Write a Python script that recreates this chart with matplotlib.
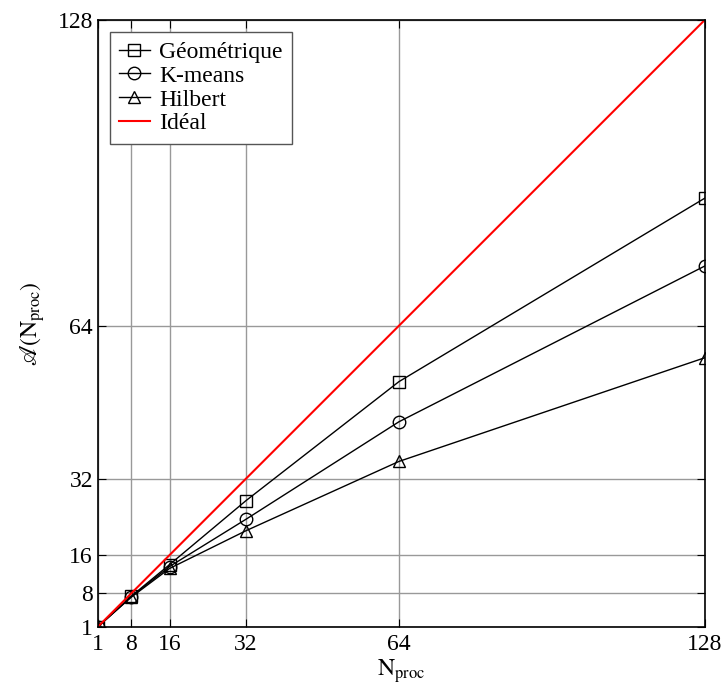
import matplotlib
matplotlib.use("Agg")
import matplotlib.pyplot as plt

plt.rcParams["font.family"] = "Liberation Serif"
plt.rcParams["mathtext.fontset"] = "stix"

nproc = [1, 8, 16, 32, 64, 128]
geometrique = [1, 7.4, 14.0, 27.4, 52.3, 90.7]
kmeans = [1, 7.3, 13.6, 23.5, 43.9, 76.5]
hilbert = [1, 7.2, 13.2, 21.1, 35.6, 57.3]
ideal = [1, 128]
ticks = [1, 8, 16, 32, 64, 128]

fig = plt.figure(figsize=(7.25, 6.91), dpi=100)
ax = fig.add_axes([0.135, 0.093, 0.837, 0.878])

ax.plot(nproc, geometrique, color="black", lw=1, marker="s", ms=9, mfc="none",
        mec="black", mew=1, label="Géométrique")
ax.plot(nproc, kmeans, color="black", lw=1, marker="o", ms=9, mfc="none",
        mec="black", mew=1, label="K-means")
ax.plot(nproc, hilbert, color="black", lw=1, marker="^", ms=9, mfc="none",
        mec="black", mew=1, label="Hilbert")
ax.plot(ideal, ideal, color="red", lw=1.5, label="Idéal")

ax.set_xlim(1, 128)
ax.set_ylim(1, 128)
ax.set_xticks(ticks)
ax.set_yticks(ticks)
ax.tick_params(direction="in", top=True, right=True, length=6, labelsize=17)
ax.tick_params(axis="x", pad=5)
ax.grid(True, color="#999999", lw=1)
for s in ax.spines.values():
    s.set_linewidth(1.2)

ax.set_xlabel(r"$\mathrm{N}_{\mathrm{proc}}$", fontsize=17, labelpad=2)
ax.set_ylabel(r"$\mathscr{A}(\mathrm{N}_{\mathrm{proc}})$", fontsize=17, labelpad=8)

leg = ax.legend(loc="upper left", fontsize=17, fancybox=False, framealpha=1,
                edgecolor="#555555", handlelength=1.3, borderpad=0.4,
                labelspacing=0.1, handletextpad=0.4, borderaxespad=0.5)
leg.get_frame().set_linewidth(1)

fig.savefig("out.png", dpi=100)
